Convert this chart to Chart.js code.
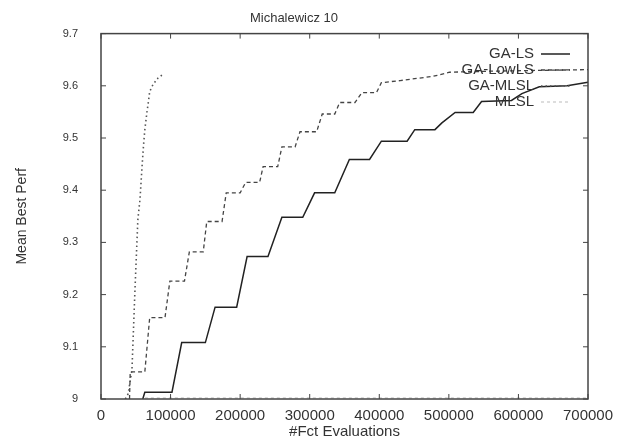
<!DOCTYPE html>
<html>
<head>
<meta charset="utf-8">
<script src="https://cdn.jsdelivr.net/npm/chart.js@4.4.1/dist/chart.umd.min.js"></script>
<style>
  html, body { margin: 0; padding: 0; background: #fff; }
  #wrap { width: 630px; height: 442px; }
</style>
</head>
<body>
<div id="wrap"><canvas id="chart" width="630" height="442"></canvas></div>
<script>
// values
const gaLsX = [60000, 63000, 102000, 116000, 150000, 164000, 195000, 210000, 240000, 260000, 290000, 307000, 336000, 357000, 386000, 403000, 440000, 451000, 480000, 490000, 509000, 535000, 547000, 590000, 605000, 630000, 670000, 700000];
const gaLsY = [9.0, 9.013, 9.013, 9.108, 9.108, 9.176, 9.176, 9.273, 9.273, 9.348, 9.348, 9.395, 9.395, 9.459, 9.459, 9.494, 9.494, 9.516, 9.516, 9.529, 9.549, 9.549, 9.57, 9.572, 9.585, 9.598, 9.6, 9.607];

const gaLowLsX = [41000, 42000, 63000, 70000, 92000, 99000, 120000, 127000, 147000, 152000, 174000, 180000, 200000, 208000, 228000, 233000, 254000, 260000, 279000, 286000, 310000, 318000, 336000, 343000, 365000, 375000, 396000, 403000, 430000, 477000, 501000, 560000, 700000];
const gaLowLsY = [9.0, 9.052, 9.052, 9.156, 9.156, 9.226, 9.226, 9.282, 9.282, 9.34, 9.34, 9.395, 9.395, 9.415, 9.415, 9.445, 9.445, 9.483, 9.483, 9.512, 9.512, 9.546, 9.546, 9.568, 9.568, 9.587, 9.587, 9.606, 9.61, 9.618, 9.626, 9.628, 9.631];

const gaMlslX = [35000, 39000, 44500, 49000, 53000, 56000, 59000, 61000, 63000, 66000, 68000, 70000, 75000, 82000, 89000];
const gaMlslY = [9.0, 9.01, 9.056, 9.215, 9.344, 9.382, 9.445, 9.484, 9.516, 9.549, 9.568, 9.589, 9.603, 9.615, 9.622];

const mlslX = [63000, 700000];
const mlslY = [9.002, 9.002];

const xTicks = [0, 100000, 200000, 300000, 400000, 500000, 600000, 700000];
const yTicks = [9, 9.1, 9.2, 9.3, 9.4, 9.5, 9.6, 9.7];

const pts = (xs, ys) => xs.map((x, i) => ({ x: x, y: ys[i] }));

// gnuplot style box with inward ticks on all four sides
const framePlugin = {
  id: 'frame',
  afterDatasetsDraw(chart) {
    const ctx = chart.ctx;
    const a = chart.chartArea;
    const xs = chart.scales.x, ys = chart.scales.y;
    ctx.save();
    ctx.strokeStyle = '#444';
    ctx.lineWidth = 1.5;
    ctx.strokeRect(a.left, a.top, a.right - a.left, a.bottom - a.top);
    ctx.lineWidth = 1;
    ctx.beginPath();
    xTicks.forEach(v => {
      const px = xs.getPixelForValue(v);
      ctx.moveTo(px, a.bottom); ctx.lineTo(px, a.bottom - 5);
      ctx.moveTo(px, a.top); ctx.lineTo(px, a.top + 5);
    });
    yTicks.forEach(v => {
      const py = ys.getPixelForValue(v);
      ctx.moveTo(a.left, py); ctx.lineTo(a.left + 5, py);
      ctx.moveTo(a.right, py); ctx.lineTo(a.right - 5, py);
    });
    ctx.stroke();
    ctx.restore();
  }
};

// key inside the plot, text right-aligned then a line sample
const keyPlugin = {
  id: 'key',
  afterDraw(chart) {
    const ctx = chart.ctx;
    ctx.save();
    ctx.font = '15px "Liberation Sans", Arial, sans-serif';
    ctx.textAlign = 'right';
    ctx.textBaseline = 'middle';
    chart.data.datasets.forEach((ds, i) => {
      const y = 54 + i * 16;
      ctx.fillStyle = '#333';
      ctx.fillText(ds.label, 534, y);
      ctx.strokeStyle = ds.borderColor;
      ctx.lineWidth = ds.borderWidth;
      ctx.setLineDash(ds.borderDash || []);
      ctx.beginPath();
      ctx.moveTo(541, y);
      ctx.lineTo(570, y);
      ctx.stroke();
    });
    ctx.restore();
  }
};

new Chart(document.getElementById('chart'), {
  type: 'line',
  data: {
    datasets: [
      { label: 'GA-LS', data: pts(gaLsX, gaLsY), borderColor: '#222', borderWidth: 1.5 },
      { label: 'GA-LowLS', data: pts(gaLowLsX, gaLowLsY), borderColor: '#444', borderWidth: 1.3, borderDash: [4, 3] },
      { label: 'GA-MLSL', data: pts(gaMlslX, gaMlslY), borderColor: '#555', borderWidth: 1.6, borderDash: [1.5, 3] },
      { label: 'MLSL', data: pts(mlslX, mlslY), borderColor: '#bbb', borderWidth: 1, borderDash: [3, 3] }
    ]
  },
  options: {
    responsive: false,
    animation: false,
    layout: { padding: { left: 0, right: 42, top: 0, bottom: 0 } },
    elements: { point: { radius: 0 }, line: { tension: 0, fill: false } },
    plugins: {
      legend: { display: false },
      tooltip: { enabled: false },
      title: {
        display: true,
        text: 'Michalewicz 10',
        color: '#333',
        font: { family: '"Liberation Sans", Arial, sans-serif', size: 13, weight: 'normal' },
        padding: { top: 11, bottom: 7 }
      }
    },
    scales: {
      x: {
        type: 'linear',
        min: 0,
        max: 700000,
        grid: { display: false },
        border: { display: false },
        afterFit: s => { s.height = 43; },
        afterBuildTicks: s => { s.ticks = xTicks.map(v => ({ value: v })); },
        ticks: {
          autoSkip: false,
          maxRotation: 0,
          padding: 0,
          color: '#333',
          font: { family: '"Liberation Sans", Arial, sans-serif', size: 15 },
          callback: v => String(v)
        },
        title: {
          display: true,
          text: '#Fct Evaluations',
          color: '#333',
          font: { family: '"Liberation Sans", Arial, sans-serif', size: 15 },
          padding: { top: 0, bottom: 1 }
        }
      },
      y: {
        type: 'linear',
        min: 9,
        max: 9.7,
        grid: { display: false },
        border: { display: false },
        afterFit: s => { s.width = 101; },
        afterBuildTicks: s => { s.ticks = yTicks.map(v => ({ value: v })); },
        ticks: {
          padding: 15,
          color: '#333',
          font: { family: '"Liberation Sans", Arial, sans-serif', size: 11 },
          callback: v => String(Math.round(v * 10) / 10)
        },
        title: {
          display: true,
          text: 'Mean Best Perf',
          color: '#333',
          font: { family: '"Liberation Sans", Arial, sans-serif', size: 14 },
          padding: { top: 14, bottom: 0 }
        }
      }
    }
  },
  plugins: [framePlugin, keyPlugin]
});
</script>
</body>
</html>
